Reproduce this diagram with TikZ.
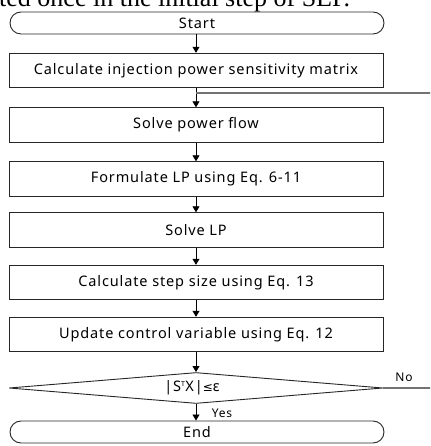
\documentclass[tikz,border=0pt]{standalone}
\usepackage{fontspec}
\setmainfont{Noto Sans}[LetterSpace=6]
\newfontfamily\serifcap{Liberation Serif}[LetterSpace=0]
\newfontfamily\dejavu{DejaVu Sans}[LetterSpace=0]
\usetikzlibrary{shapes.misc,shapes.geometric,arrows.meta}
\begin{document}
\begin{tikzpicture}[x=1pt,y=1pt,
  txt/.style={font=\fontsize{14.5}{17}\selectfont},
  proc/.style={txt, draw=black!85, line width=0.9pt, rectangle, minimum width=374pt, minimum height=34.5pt, inner sep=0pt},
  term/.style={txt, draw=black!85, line width=0.9pt, rounded rectangle, minimum width=374pt, minimum height=22pt, inner sep=0pt},
  dec/.style={draw=black!85, line width=0.9pt, diamond, minimum width=374pt, minimum height=31pt, inner sep=0pt},
  arr/.style={line width=0.9pt, -{Triangle[width=7pt,length=6pt]}},
  lbl/.style={font=\fontsize{12}{14}\selectfont, inner sep=0pt},
  loopline/.style={draw=black!55, line width=1.1pt}
]
\useasboundingbox (0,0) rectangle (430,446);
\clip (0,0) rectangle (430,446);
\node[anchor=base west, inner sep=0pt, font=\serifcap\fontsize{26}{30}\selectfont] (cap) at (-1,439) {ted once in the initial step of SEP.};
\node[term] (start) at (197,423) {Start};
\node[proc] (b1) at (196,375.5) {Calculate injection power sensitivity matrix};
\node[proc] (b2) at (196,321) {Solve power flow};
\node[proc] (b3) at (196,267) {Formulate LP using Eq. 6-11};
\node[proc] (b4) at (196,216) {Solve LP};
\node[proc] (b5) at (196,163.5) {Calculate step size using Eq. 13};
\node[proc] (b6) at (196,111.5) {Update control variable using Eq. 12};
\node[dec] (dia) at (196,58) {};
\node[txt, inner sep=0pt] (cond) at (192,58) {|S\textsuperscript{\fontsize{7}{8}\selectfont T}X|{\dejavu\fontsize{12}{14}\selectfont ≤}ε};
\node[term] (end) at (197,14) {End};
\node[lbl] (no) at (404,69) {No};
\node[lbl] (yes) at (222,33) {Yes};
\coordinate (j) at (b1.south |- 0,353);
\coordinate (far) at (460,58);
\draw[arr] (start.south -| b1.north) -- (b1.north);
\draw[arr] (b1) -- (b2);
\draw[arr] (b2) -- (b3);
\draw[arr] (b3) -- (b4);
\draw[arr] (b4) -- (b5);
\draw[arr] (b5) -- (b6);
\draw[arr] (b6) -- (dia);
\draw[arr] (dia.south) -- (end.north -| dia.south);
\draw[loopline] (dia.east) -- (far) |- (j);
\end{tikzpicture}
\end{document}
